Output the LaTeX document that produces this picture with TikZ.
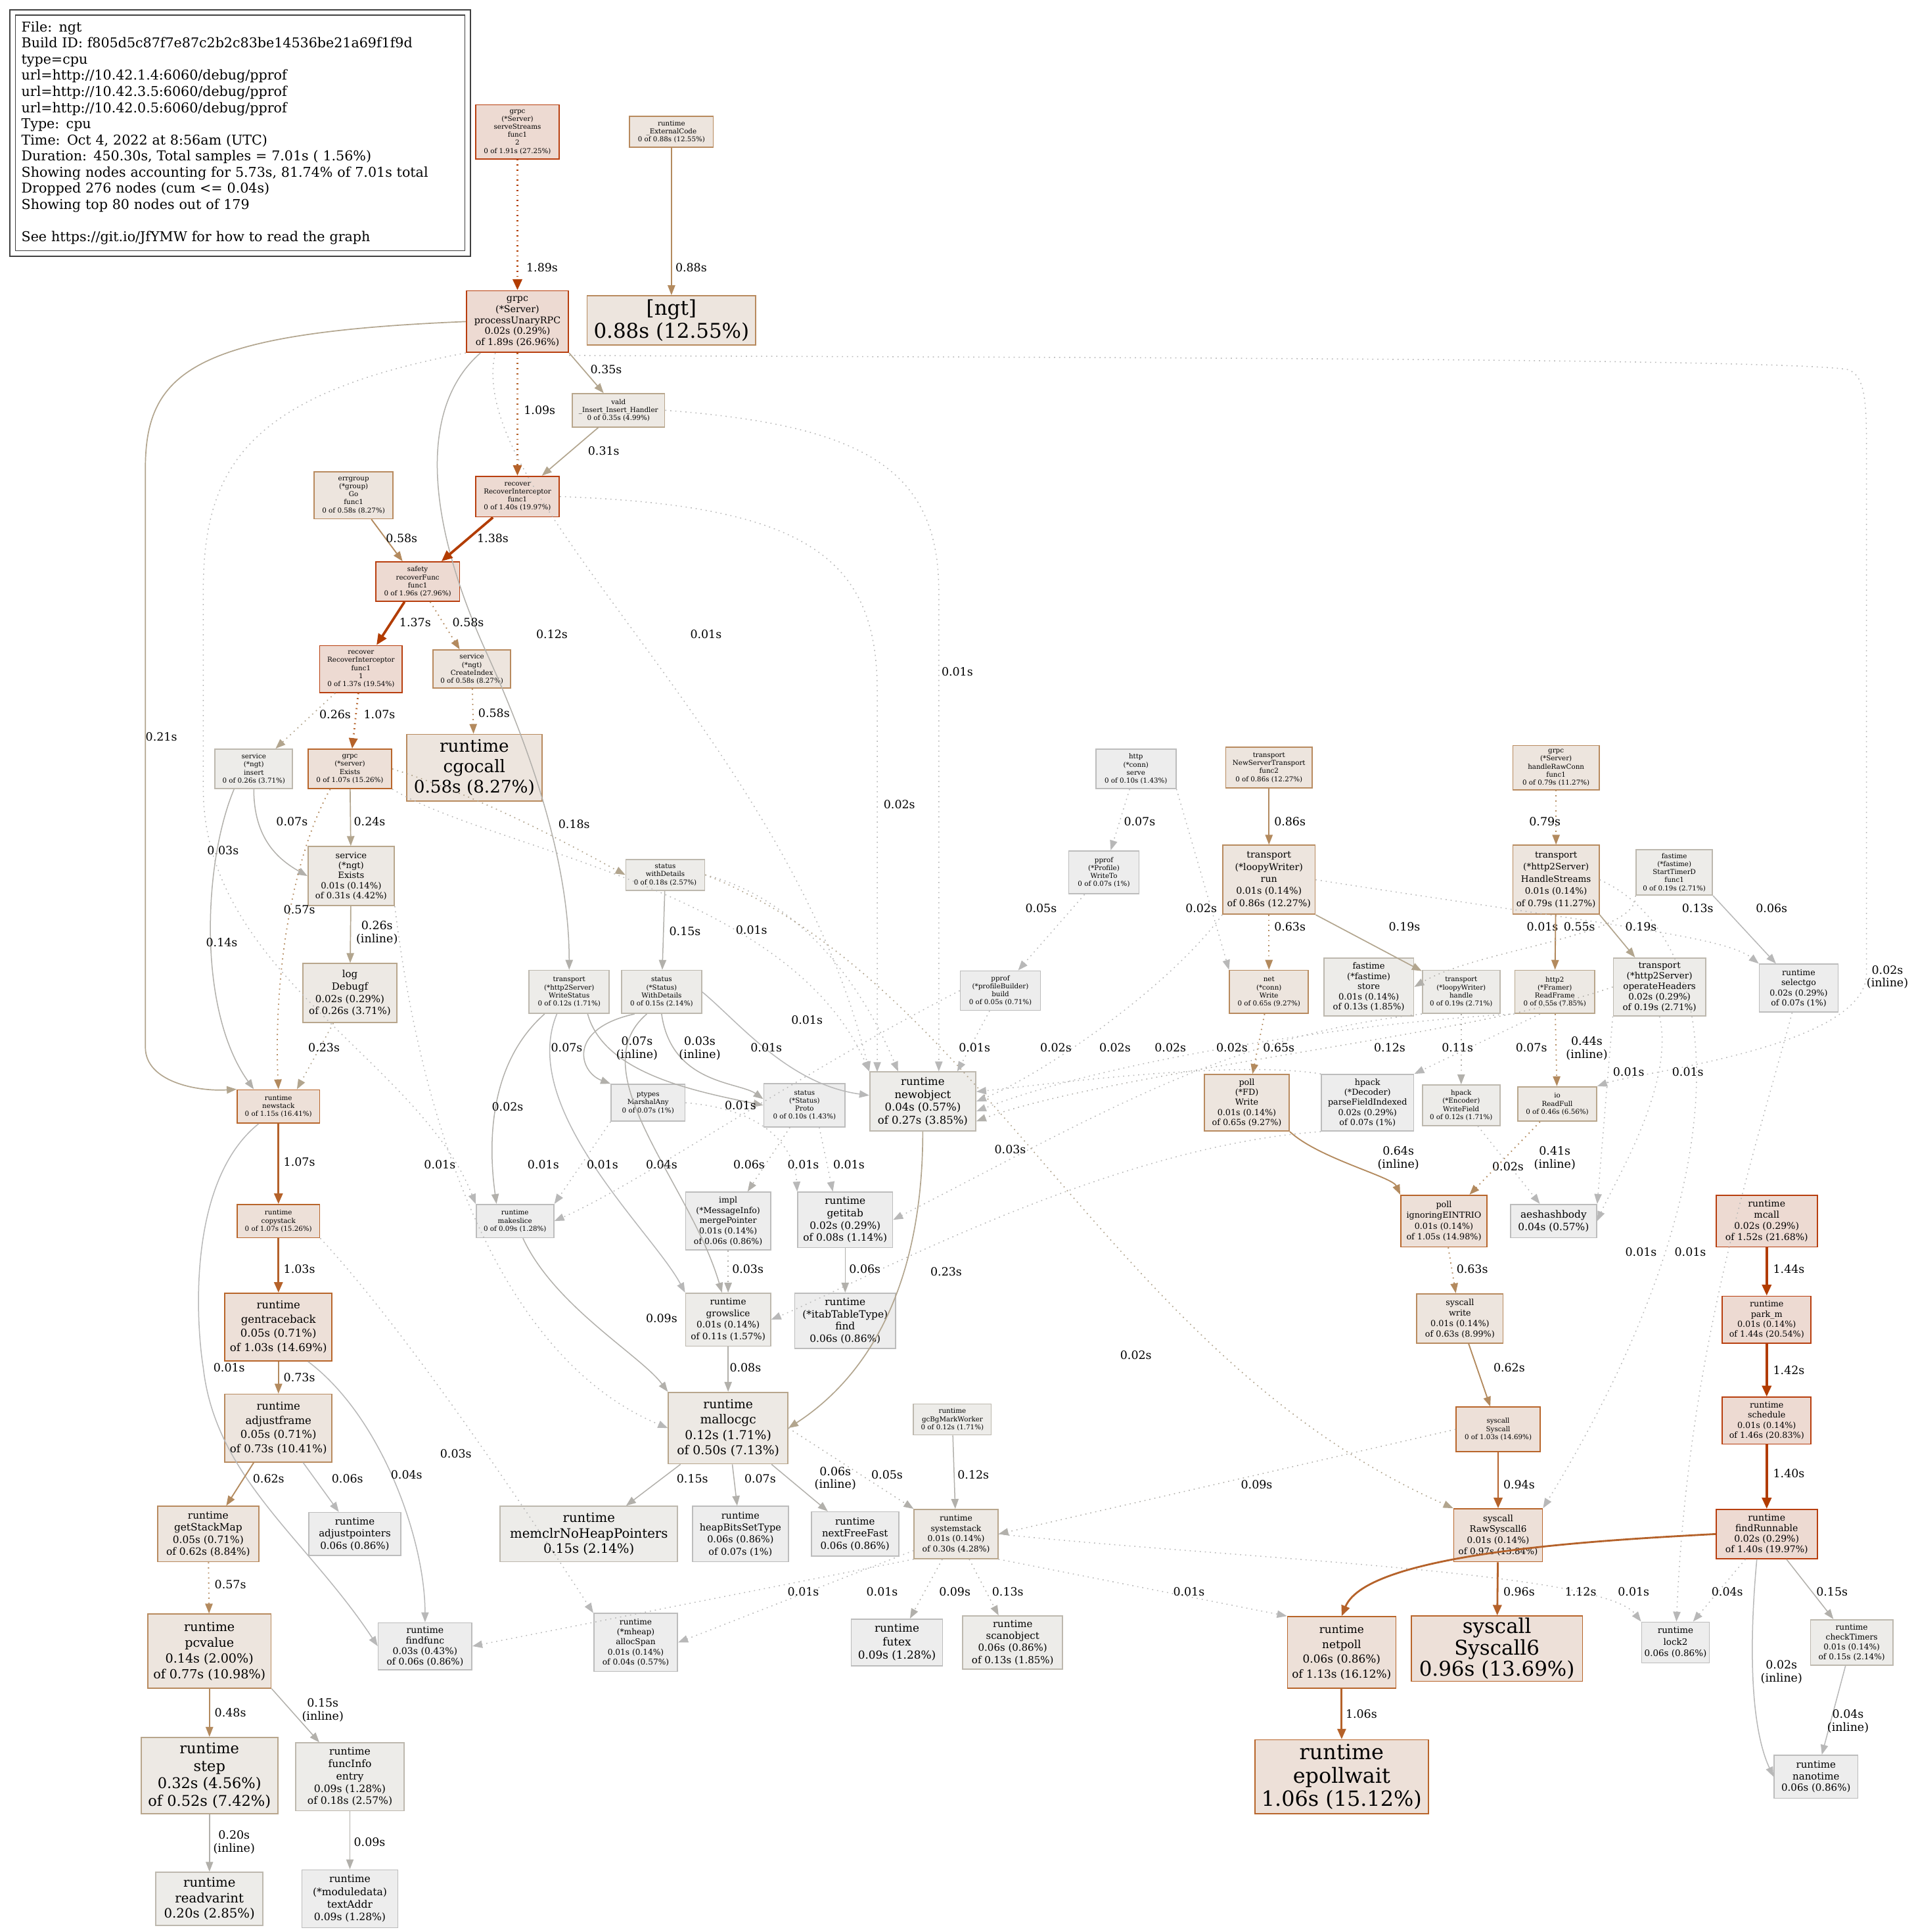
\documentclass[tikz,border=0pt]{standalone}
\usepackage{fontspec}
\setmainfont{DejaVu Serif}
\usetikzlibrary{arrows.meta}

\definecolor{hotD}{HTML}{B83E0E}\definecolor{hotF}{HTML}{EDDAD2}
\definecolor{warmD}{HTML}{B8652A}\definecolor{warmF}{HTML}{EDE0D8}
\definecolor{tanD}{HTML}{B88A5E}\definecolor{tanF}{HTML}{EDE5DE}
\definecolor{khD}{HTML}{B8A68C}\definecolor{khF}{HTML}{EDE9E4}
\definecolor{grD}{HTML}{BDB8AE}\definecolor{grF}{HTML}{EDECE9}
\definecolor{paD}{HTML}{BCBCBC}\definecolor{paF}{HTML}{EDEDED}
\definecolor{hotL}{HTML}{B23C00}
\definecolor{warmL}{HTML}{B5622A}
\definecolor{tanL}{HTML}{B38A5E}
\definecolor{khL}{HTML}{B2A58E}
\definecolor{grL}{HTML}{B2B0AB}
\definecolor{paL}{HTML}{B8B8B8}

\tikzset{
  fn/.style={draw, rectangle, inner sep=1pt, align=center, line width=0.9pt},
  sz/.style 2 args={minimum width=#1pt, minimum height=#2pt},
  fs/.style 2 args={font=\fontsize{#1}{#2}\selectfont},
  tinyfn/.style={fs={5.5}{6.5}},
  hot/.style={draw=hotD, fill=hotF},
  warm/.style={draw=warmD, fill=warmF},
  tan/.style={draw=tanD, fill=tanF},
  kh/.style={draw=khD, fill=khF},
  gr/.style={draw=grD, fill=grF},
  pa/.style={draw=paD, fill=paF},
  lab/.style={font=\fontsize{9.3}{10.5}\selectfont, align=center, inner sep=0pt},
  dotline/.style={dash pattern=on 0.9pt off 3.2pt},
  hotE/.style={draw=hotL, line width=2pt, -{Triangle[length=9pt,width=7.5pt]}},
  warmE/.style={draw=warmL, line width=1.5pt, -{Triangle[length=8.5pt,width=7pt]}},
  tanE/.style={draw=tanL, line width=1pt, -{Triangle[length=8pt,width=6pt]}},
  khE/.style={draw=khL, line width=0.9pt, -{Triangle[length=8pt,width=6pt]}},
  grE/.style={draw=grL, line width=0.8pt, -{Triangle[length=8pt,width=6pt]}},
  paE/.style={draw=paL, line width=0.8pt, -{Triangle[length=8pt,width=6pt]}},
}

\begin{document}
\begin{tikzpicture}[x=1pt,y=-1pt]
  \fill[white] (0,0) rectangle (1555,1568);
  \useasboundingbox (0,0) rectangle (1555,1568);

  % legend
  \node[draw=black!75, line width=0.8pt, align=left, anchor=north west, inner sep=5pt,
        text width=355pt, minimum height=191pt, fs={11}{13.1}] (legend) at (12,12)
    {File: ngt\\
     Build ID: f805d5c87f7e87c2b2c83be14536be21a69f1f9d\\
     type=cpu\\
     url=http://10.42.1.4:6060/debug/pprof\\
     url=http://10.42.3.5:6060/debug/pprof\\
     url=http://10.42.0.5:6060/debug/pprof\\
     Type: cpu\\
     Time: Oct 4, 2022 at 8:56am (UTC)\\
     Duration: 450.30s, Total samples = 7.01s ( 1.56\%)\\
     Showing nodes accounting for 5.73s, 81.74\% of 7.01s total\\
     Dropped 276 nodes (cum <= 0.04s)\\
     Showing top 80 nodes out of 179\\[13.1pt]
     See https://git.io/JfYMW for how to read the graph};
  \draw[black!75, line width=0.8pt] ([shift={(-4pt,4pt)}]legend.north west) rectangle ([shift={(4pt,-4pt)}]legend.south east);

  % grpc / service side
  \node[fn,hot,tinyfn,sz={68}{44}] (serveStreams) at (420,107) {grpc\\(*Server)\\serveStreams\\func1\\2\\0 of 1.91s (27.25\%)};
  \node[fn,tan,tinyfn,sz={68}{25}] (ExternalCode) at (545,107) {runtime\\\_ExternalCode\\0 of 0.88s (12.55\%)};
  \node[fn,tan,fs={16.5}{18.5},sz={137}{40}] (ngt) at (545,260) {[ngt]\\0.88s (12.55\%)};
  \node[fn,hot,fs={7.6}{9},sz={83}{50}] (processUnaryRPC) at (420,261) {grpc\\(*Server)\\processUnaryRPC\\0.02s (0.29\%)\\of 1.89s (26.96\%)};
  \node[fn,kh,tinyfn,sz={75}{27}] (vald) at (502,333) {vald\\\_Insert\_Insert\_Handler\\0 of 0.35s (4.99\%)};
  \node[fn,tan,tinyfn,sz={64}{38}] (errgroup) at (287,402) {errgroup\\(*group)\\Go\\func1\\0 of 0.58s (8.27\%)};
  \node[fn,hot,tinyfn,sz={68}{33}] (recoverA) at (420,403) {recover\\RecoverInterceptor\\func1\\0 of 1.40s (19.97\%)};
  \node[fn,hot,tinyfn,sz={68}{32}] (safety) at (339,472) {safety\\recoverFunc\\func1\\0 of 1.96s (27.96\%)};
  \node[fn,hot,tinyfn,sz={67}{38}] (recoverB) at (293,543) {recover\\RecoverInterceptor\\func1\\1\\0 of 1.37s (19.54\%)};
  \node[fn,tan,tinyfn,sz={63}{31}] (CreateIndex) at (383,543) {service\\(*ngt)\\CreateIndex\\0 of 0.58s (8.27\%)};
  \node[fn,tan,fs={14}{16.5},sz={110}{54}] (cgocall) at (385,623) {runtime\\cgocall\\0.58s (8.27\%)};
  \node[fn,gr,tinyfn,sz={63}{32}] (insert) at (206,624) {service\\(*ngt)\\insert\\0 of 0.26s (3.71\%)};
  \node[fn,warm,tinyfn,sz={68}{32}] (grpcExists) at (284,624) {grpc\\(*server)\\Exists\\0 of 1.07s (15.26\%)};
  \node[fn,kh,fs={7}{8.2},sz={70}{48}] (svcExists) at (285,711) {service\\(*ngt)\\Exists\\0.01s (0.14\%)\\of 0.31s (4.42\%)};
  \node[fn,kh,fs={8}{10},sz={76}{48}] (logDebugf) at (284,806) {log\\Debugf\\0.02s (0.29\%)\\of 0.26s (3.71\%)};

  % stack growth
  \node[fn,warm,tinyfn,sz={67}{27}] (newstack) at (226,898) {runtime\\newstack\\0 of 1.15s (16.41\%)};
  \node[fn,warm,tinyfn,sz={67}{27}] (copystack) at (226,991) {runtime\\copystack\\0 of 1.07s (15.26\%)};
  \node[fn,warm,fs={8.8}{11.5},sz={87}{55}] (gentraceback) at (226,1077) {runtime\\gentraceback\\0.05s (0.71\%)\\of 1.03s (14.69\%)};
  \node[fn,tan,fs={8.8}{11.5},sz={87}{55}] (adjustframe) at (226,1159) {runtime\\adjustframe\\0.05s (0.71\%)\\of 0.73s (10.41\%)};
  \node[fn,tan,fs={8.2}{9.8},sz={82}{45}] (getStackMap) at (169,1245) {runtime\\getStackMap\\0.05s (0.71\%)\\of 0.62s (8.84\%)};
  \node[fn,pa,fs={8}{9.8},sz={75}{35}] (adjustpointers) at (288,1245) {runtime\\adjustpointers\\0.06s (0.86\%)};
  \node[fn,tan,fs={10.2}{12.8},sz={100}{60}] (pcvalue) at (170,1340) {runtime\\pcvalue\\0.14s (2.00\%)\\of 0.77s (10.98\%)};
  \node[fn,pa,fs={7.5}{8.5},sz={76}{38}] (findfunc) at (345,1336) {runtime\\findfunc\\0.03s (0.43\%)\\of 0.06s (0.86\%)};
  \node[fn,pa,fs={6.5}{8.2},sz={68}{47}] (allocSpan) at (516,1333) {runtime\\(*mheap)\\allocSpan\\0.01s (0.14\%)\\of 0.04s (0.57\%)};
  \node[fn,kh,fs={12}{14.3},sz={111}{62}] (step) at (170,1441) {runtime\\step\\0.32s (4.56\%)\\of 0.52s (7.42\%)};
  \node[fn,gr,fs={8.3}{10},sz={88}{55}] (funcInfo) at (284,1442) {runtime\\funcInfo\\entry\\0.09s (1.28\%)\\of 0.18s (2.57\%)};
  \node[fn,gr,fs={10.5}{12.5},sz={87}{43}] (readvarint) at (170,1541) {runtime\\readvarint\\0.20s (2.85\%)};
  \node[fn,pa,fs={8.3}{10.3},sz={78}{47}] (textAddr) at (284,1541) {runtime\\(*moduledata)\\textAddr\\0.09s (1.28\%)};

  % status / alloc
  \node[fn,gr,tinyfn,sz={64}{25}] (withDetailsLow) at (540,710) {status\\withDetails\\0 of 0.18s (2.57\%)};
  \node[fn,gr,tinyfn,sz={65}{35}] (WriteStatus) at (462,805) {transport\\(*http2Server)\\WriteStatus\\0 of 0.12s (1.71\%)};
  \node[fn,gr,tinyfn,sz={65}{35}] (WithDetails) at (537,805) {status\\(*Status)\\WithDetails\\0 of 0.15s (2.14\%)};
  \node[fn,pa,tinyfn,sz={60}{30}] (MarshalAny) at (526,895) {ptypes\\MarshalAny\\0 of 0.07s (1\%)};
  \node[fn,pa,tinyfn,sz={66}{35}] (Proto) at (653,897) {status\\(*Status)\\Proto\\0 of 0.10s (1.43\%)};
  \node[fn,gr,fs={8.8}{10.5},sz={86}{48}] (newobject) at (749,894) {runtime\\newobject\\0.04s (0.57\%)\\of 0.27s (3.85\%)};
  \node[fn,pa,tinyfn,sz={63}{27}] (makeslice) at (418,991) {runtime\\makeslice\\0 of 0.09s (1.28\%)};
  \node[fn,pa,fs={6.7}{8.3},sz={69}{47}] (mergePointer) at (591,991) {impl\\(*MessageInfo)\\mergePointer\\0.01s (0.14\%)\\of 0.06s (0.86\%)};
  \node[fn,pa,fs={8.2}{10},sz={77}{45}] (getitab) at (686,990) {runtime\\getitab\\0.02s (0.29\%)\\of 0.08s (1.14\%)};
  \node[fn,gr,fs={7.3}{9.3},sz={69}{43}] (growslice) at (591,1071) {runtime\\growslice\\0.01s (0.14\%)\\of 0.11s (1.57\%)};
  \node[fn,pa,fs={8.2}{10},sz={82}{45}] (itabfind) at (686,1072) {runtime\\(*itabTableType)\\find\\0.06s (0.86\%)};
  \node[fn,kh,fs={10}{12.5},sz={97}{58}] (mallocgc) at (591,1159) {runtime\\mallocgc\\0.12s (1.71\%)\\of 0.50s (7.13\%)};
  \node[fn,gr,tinyfn,sz={63}{25}] (gcBgMarkWorker) at (773,1152) {runtime\\gcBgMarkWorker\\0 of 0.12s (1.71\%)};
  \node[fn,gr,fs={10.5}{12.5},sz={144}{45}] (memclr) at (478,1245) {runtime\\memclrNoHeapPointers\\0.15s (2.14\%)};
  \node[fn,pa,fs={7.7}{9.8},sz={78}{45}] (heapBits) at (601,1245) {runtime\\heapBitsSetType\\0.06s (0.86\%)\\of 0.07s (1\%)};
  \node[fn,pa,fs={8}{10},sz={71}{36}] (nextFreeFast) at (694,1245) {runtime\\nextFreeFast\\0.06s (0.86\%)};
  \node[fn,kh,fs={6.6}{8.4},sz={68}{40}] (systemstack) at (776,1245) {runtime\\systemstack\\0.01s (0.14\%)\\of 0.30s (4.28\%)};
  \node[fn,pa,fs={9}{11},sz={74}{38}] (futex) at (728,1333) {runtime\\futex\\0.09s (1.28\%)};
  \node[fn,gr,fs={8}{9.8},sz={81}{43}] (scanobject) at (822,1333) {runtime\\scanobject\\0.06s (0.86\%)\\of 0.13s (1.85\%)};

  % pprof / transport
  \node[fn,pa,tinyfn,sz={65}{32}] (profBuild) at (812,804) {pprof\\(*profileBuilder)\\build\\0 of 0.05s (0.71\%)};
  \node[fn,pa,tinyfn,sz={65}{32}] (httpServe) at (922,624) {http\\(*conn)\\serve\\0 of 0.10s (1.43\%)};
  \node[fn,pa,tinyfn,sz={57}{35}] (WriteTo) at (896,708) {pprof\\(*Profile)\\WriteTo\\0 of 0.07s (1\%)};
  \node[fn,tan,tinyfn,sz={70}{33}] (NewServerTransport) at (1030,623) {transport\\NewServerTransport\\func2\\0 of 0.86s (12.27\%)};
  \node[fn,tan,fs={7.6}{9.8},sz={75}{56}] (loopyRun) at (1030,714) {transport\\(*loopyWriter)\\run\\0.01s (0.14\%)\\of 0.86s (12.27\%)};
  \node[fn,tan,tinyfn,sz={64}{35}] (netWrite) at (1030,805) {net\\(*conn)\\Write\\0 of 0.65s (9.27\%)};
  \node[fn,tan,fs={6.8}{8.2},sz={69}{46}] (fdWrite) at (1012,895) {poll\\(*FD)\\Write\\0.01s (0.14\%)\\of 0.65s (9.27\%)};
  \node[fn,gr,fs={7}{8.3},sz={73}{47}] (fastimeStore) at (1111,801) {fastime\\(*fastime)\\store\\0.01s (0.14\%)\\of 0.13s (1.85\%)};
  \node[fn,gr,tinyfn,sz={63}{35}] (loopyHandle) at (1186,805) {transport\\(*loopyWriter)\\handle\\0 of 0.19s (2.71\%)};
  \node[fn,kh,tinyfn,sz={65}{35}] (ReadFrame) at (1262,805) {http2\\(*Framer)\\ReadFrame\\0 of 0.55s (7.85\%)};
  \node[fn,pa,fs={6.8}{8.2},sz={75}{46}] (parseFieldIndexed) at (1110,895) {hpack\\(*Decoder)\\parseFieldIndexed\\0.02s (0.29\%)\\of 0.07s (1\%)};
  \node[fn,gr,tinyfn,sz={63}{33}] (WriteField) at (1186,897) {hpack\\(*Encoder)\\WriteField\\0 of 0.12s (1.71\%)};
  \node[fn,kh,tinyfn,sz={64}{28}] (ReadFull) at (1264,896) {io\\ReadFull\\0 of 0.46s (6.56\%)};
  \node[fn,warm,fs={6.8}{8.6},sz={70}{42}] (ignoringEINTRIO) at (1172,991) {poll\\ignoringEINTRIO\\0.01s (0.14\%)\\of 1.05s (14.98\%)};
  \node[fn,pa,fs={8.2}{10},sz={70}{27}] (aeshashbody) at (1261,991) {aeshashbody\\0.04s (0.57\%)};
  \node[fn,tan,fs={6.8}{8.5},sz={70}{40}] (syscallWrite) at (1185,1070) {syscall\\write\\0.01s (0.14\%)\\of 0.63s (8.99\%)};
  \node[fn,warm,tinyfn,sz={68}{36}] (Syscall) at (1216,1160) {syscall\\Syscall\\0 of 1.03s (14.69\%)};
  \node[fn,warm,fs={7.2}{9},sz={72}{43}] (RawSyscall6) at (1216,1246) {syscall\\RawSyscall6\\0.01s (0.14\%)\\of 0.97s (13.84\%)};
  \node[fn,warm,fs={16.5}{17.5},sz={139}{53}] (Syscall6) at (1215,1338) {syscall\\Syscall6\\0.96s (13.69\%)};
  \node[fn,warm,fs={9}{12},sz={88}{58}] (netpoll) at (1089,1341) {runtime\\netpoll\\0.06s (0.86\%)\\of 1.13s (16.12\%)};
  \node[fn,warm,fs={17}{19},sz={141}{60}] (epollwait) at (1089,1442) {runtime\\epollwait\\1.06s (15.12\%)};
  \node[fn,tan,tinyfn,sz={70}{36}] (handleRawConn) at (1263,623) {grpc\\(*Server)\\handleRawConn\\func1\\0 of 0.79s (11.27\%)};
  \node[fn,tan,fs={7.2}{9.8},sz={70}{56}] (HandleStreams) at (1263,714) {transport\\(*http2Server)\\HandleStreams\\0.01s (0.14\%)\\of 0.79s (11.27\%)};
  \node[fn,gr,tinyfn,sz={62}{37}] (StartTimerD) at (1359,708) {fastime\\(*fastime)\\StartTimerD\\func1\\0 of 0.19s (2.71\%)};
  \node[fn,gr,fs={7.2}{8.6},sz={75}{47}] (operateHeaders) at (1347,801) {transport\\(*http2Server)\\operateHeaders\\0.02s (0.29\%)\\of 0.19s (2.71\%)};
  \node[fn,pa,fs={6.7}{8.3},sz={64}{39}] (selectgo) at (1460,802) {runtime\\selectgo\\0.02s (0.29\%)\\of 0.07s (1\%)};

  % scheduler
  \node[fn,hot,fs={7.5}{9},sz={82}{42}] (mcall) at (1434,991) {runtime\\mcall\\0.02s (0.29\%)\\of 1.52s (21.68\%)};
  \node[fn,hot,fs={6.8}{8.2},sz={72}{38}] (parkm) at (1434,1071) {runtime\\park\_m\\0.01s (0.14\%)\\of 1.44s (20.54\%)};
  \node[fn,hot,fs={6.8}{8.2},sz={72}{38}] (schedule) at (1434,1153) {runtime\\schedule\\0.01s (0.14\%)\\of 1.46s (20.83\%)};
  \node[fn,hot,fs={7.5}{8.7},sz={82}{40}] (findRunnable) at (1434,1245) {runtime\\findRunnable\\0.02s (0.29\%)\\of 1.40s (19.97\%)};
  \node[fn,pa,fs={7.2}{9.3},sz={55}{33}] (lock2) at (1360,1333) {runtime\\lock2\\0.06s (0.86\%)};
  \node[fn,gr,fs={6.5}{8},sz={67}{37}] (checkTimers) at (1503,1333) {runtime\\checkTimers\\0.01s (0.14\%)\\of 0.15s (2.14\%)};
  \node[fn,pa,fs={8}{9.5},sz={68}{35}] (nanotime) at (1474,1442) {runtime\\nanotime\\0.06s (0.86\%)};

  % edges: top part
  \draw[hotE,dotline] (serveStreams) -- (processUnaryRPC) node[lab] at (440,217) {1.89s};
  \draw[tanE] (ExternalCode) -- (ngt) node[lab] at (561,217) {0.88s};
  \draw[khE] (processUnaryRPC.south east) -- (vald) node[lab] at (492,300) {0.35s};
  \draw[warmE,dotline] (processUnaryRPC) -- (recoverA) node[lab] at (438,333) {1.09s};
  \draw[khE] (vald) -- (recoverA) node[lab] at (490,366) {0.31s};
  \draw[khE] (processUnaryRPC.west) .. controls (160,270) and (118,300) .. (118,380) -- (118,850) .. controls (118,878) and (160,886) .. (newstack.north west) node[lab] at (131,598) {0.21s};
  \draw[paE,dotline] (processUnaryRPC.south west) .. controls (200,320) and (165,380) .. (165,480) -- (165,640) .. controls (165,790) and (340,860) .. (makeslice.north west) node[lab] at (181,690) {0.03s};
  \draw[grE] ([xshift=-30pt]processUnaryRPC.south) .. controls (340,330) and (345,420) .. (395,530) .. controls (445,640) and (462,720) .. (WriteStatus) node[lab] at (448,515) {0.12s};
  \draw[paE,dotline] ([xshift=-18pt]processUnaryRPC.south) .. controls (375,400) and (640,600) .. (newobject.north west) node[lab] at (573,515) {0.01s};
  \draw[paE,dotline] ([yshift=-2pt]processUnaryRPC.south east) .. controls (700,290) and (1450,290) .. (1500,300) .. controls (1515,305) and (1515,330) .. (1515,370) -- (1515,790) .. controls (1515,850) and (1330,870) .. (ReadFull.north east) node[lab] at (1532,793) {0.02s\\(inline)};
  \draw[hotE] (recoverA) -- (safety) node[lab] at (400,437) {1.38s};
  \draw[paE,dotline] (recoverA.east) .. controls (650,410) and (712,450) .. (712,560) -- (712,870) node[lab] at (730,653) {0.02s};
  \draw[paE,dotline] (vald.east) .. controls (700,345) and (762,380) .. (762,480) -- (newobject.north -| 762,0) node[lab] at (777,545) {0.01s};
  \draw[tanE] (errgroup) -- (safety) node[lab] at (326,437) {0.58s};
  \draw[hotE] (safety) -- (recoverB) node[lab] at (337,505) {1.37s};
  \draw[tanE,dotline] (safety) -- (CreateIndex) node[lab] at (380,505) {0.58s};
  \draw[tanE,dotline] (CreateIndex) -- (cgocall) node[lab] at (401,579) {0.58s};
  \draw[khE,dotline] (recoverB) -- (insert) node[lab] at (272,580) {0.26s};
  \draw[warmE,dotline] (recoverB) -- (grpcExists) node[lab] at (308,580) {1.07s};

  % edges: service part
  \draw[grE] (insert.south) .. controls (206,680) and (225,697) .. (svcExists.west) node[lab] at (237,667) {0.07s};
  \draw[grE] ([xshift=-16pt]insert.south) .. controls (165,700) and (160,820) .. ([xshift=-20pt]newstack.north) node[lab] at (180,765) {0.14s};
  \draw[paE,dotline] (grpcExists.south east) .. controls (400,690) and (640,720) .. (newobject.north west) node[lab] at (610,755) {0.01s};
  \draw[khE] (grpcExists) -- (svcExists) node[lab] at (300,667) {0.24s};
  \draw[khE,dotline] (grpcExists.east) .. controls (400,650) and (470,690) .. (withDetailsLow.west) node[lab] at (466,669) {0.18s};
  \draw[tanE,dotline] ([xshift=-16pt]grpcExists.south) .. controls (235,700) and (222,800) .. (newstack.north) node[lab] at (243,738) {0.57s};
  \draw[khE] (svcExists) -- (logDebugf) node[lab] at (306,757) {0.26s\\(inline)};
  \draw[paE,dotline] (svcExists.south east) .. controls (340,900) and (400,1100) .. (mallocgc.west) node[lab] at (357,945) {0.01s};
  \draw[khE,dotline] (logDebugf) -- ([xshift=15pt]newstack.north) node[lab] at (263,850) {0.23s};

  % edges: stack growth
  \draw[warmE] (newstack) -- (copystack) node[lab] at (243,943) {1.07s};
  \draw[paE] ([xshift=-16pt]newstack.south) .. controls (150,960) and (160,1080) .. (165,1110) .. controls (175,1200) and (250,1250) .. (findfunc.west) node[lab] at (186,1110) {0.01s};
  \draw[warmE] (copystack) -- (gentraceback) node[lab] at (243,1030) {1.03s};
  \draw[paE,dotline] (copystack.south east) .. controls (330,1080) and (430,1230) .. (allocSpan.north west) node[lab] at (370,1180) {0.03s};
  \draw[tanE] (gentraceback) -- (adjustframe) node[lab] at (243,1118) {0.73s};
  \draw[paE] ([xshift=-20pt]gentraceback.south east) .. controls (310,1150) and (345,1250) .. (findfunc.north) node[lab] at (330,1197) {0.04s};
  \draw[tanE] ([xshift=-20pt]adjustframe.south) -- (getStackMap) node[lab] at (218,1200) {0.62s};
  \draw[paE] ([xshift=20pt]adjustframe.south) -- (adjustpointers) node[lab] at (282,1200) {0.06s};
  \draw[tanE,dotline] (getStackMap) -- (pcvalue) node[lab] at (187,1286) {0.57s};
  \draw[tanE] (pcvalue) -- (step) node[lab] at (187,1390) {0.48s};
  \draw[grE] (pcvalue.south east) -- (funcInfo) node[lab] at (262,1388) {0.15s\\(inline)};
  \draw[grE] (step) -- (readvarint) node[lab] at (190,1495) {0.20s\\(inline)};
  \draw[grE] (funcInfo) -- (textAddr) node[lab] at (300,1495) {0.09s};

  % edges: status / alloc
  \draw[grE] (withDetailsLow) -- (WithDetails) node[lab] at (556,756) {0.15s};
  \draw[paE,dotline] (withDetailsLow.east) .. controls (650,730) and (700,800) .. ([xshift=-20pt]newobject.north) node[lab] at (655,828) {0.01s};
  \draw[khE,dotline] (withDetailsLow.east) .. controls (800,800) and (900,1100) .. (RawSyscall6.north west) node[lab] at (922,1100) {0.02s};
  \draw[grE] ([xshift=-20pt]WriteStatus.south) .. controls (400,860) and (395,920) .. ([xshift=-15pt]makeslice.north) node[lab] at (412,898) {0.02s};
  \draw[paE] ([xshift=-10pt]WriteStatus.south) .. controls (420,900) and (530,1000) .. (growslice.north west) node[lab] at (489,945) {0.01s};
  \draw[grE] ([xshift=15pt]WriteStatus.south) .. controls (490,870) and (560,885) .. (Proto.west) node[lab] at (517,851) {0.07s\\(inline)};
  \draw[grE] ([xshift=-22pt]WithDetails.south) .. controls (460,835) and (470,870) .. (MarshalAny.north west) node[lab] at (460,850) {0.07s};
  \draw[grE] ([xshift=-12pt]WithDetails.south) .. controls (470,870) and (560,960) .. ([xshift=-5pt]growslice.north) node[lab] at (537,945) {0.04s};
  \draw[grE] (WithDetails.south) .. controls (545,880) and (600,878) .. ([yshift=5pt]Proto.west) node[lab] at (568,851) {0.03s\\(inline)};
  \draw[paE] (WithDetails.east) .. controls (600,830) and (640,880) .. ([yshift=5pt]newobject.west) node[lab] at (622,850) {0.01s};
  \draw[paE,dotline] (MarshalAny.east) .. controls (620,900) and (645,930) .. (getitab.north west) node[lab] at (652,945) {0.01s};
  \draw[paE,dotline] (MarshalAny.south west) -- (makeslice.north east) node[lab] at (441,945) {0.01s};
  \draw[grE,dotline] (Proto) -- (mergePointer) node[lab] at (608,945) {0.06s};
  \draw[paE,dotline] ([xshift=12pt]Proto.south) -- ([xshift=-10pt]getitab.north) node[lab] at (689,945) {0.01s};
  \draw[paE,dotline] (profBuild.west) .. controls (650,870) and (520,960) .. (makeslice.east) node[lab] at (601,897) {0.01s};
  \draw[paE,dotline] (profBuild) -- ([xshift=28pt]newobject.north) node[lab] at (791,850) {0.01s};
  \draw[grE] (makeslice) .. controls (450,1060) and (520,1100) .. (mallocgc.north west) node[lab] at (537,1070) {0.09s};
  \draw[grE,dotline] (mergePointer) -- (growslice) node[lab] at (607,1030) {0.03s};
  \draw[grE] (getitab) -- (itabfind) node[lab] at (702,1030) {0.06s};
  \draw[grE] (growslice) -- (mallocgc) node[lab] at (605,1110) {0.08s};
  \draw[khE] (newobject) .. controls (749,1050) and (700,1120) .. (mallocgc.east) node[lab] at (768,1032) {0.23s};
  \draw[grE] (mallocgc) -- (memclr) node[lab] at (562,1200) {0.15s};
  \draw[grE] (mallocgc) -- (heapBits) node[lab] at (617,1200) {0.07s};
  \draw[grE] (mallocgc) -- (nextFreeFast) node[lab] at (678,1200) {0.06s\\(inline)};
  \draw[grE,dotline] (mallocgc.east) -- (systemstack.north west) node[lab] at (720,1197) {0.05s};
  \draw[grE] (gcBgMarkWorker) -- (systemstack) node[lab] at (790,1197) {0.12s};
  \draw[grE,dotline] (Syscall.west) -- (systemstack.east) node[lab] at (1020,1205) {0.09s};
  \draw[paE,dotline] (systemstack.south west) -- (findfunc.east) node[lab] at (652,1292) {0.01s};
  \draw[paE,dotline] (systemstack) -- (allocSpan.east) node[lab] at (716,1292) {0.01s};
  \draw[grE,dotline] (systemstack) -- (futex) node[lab] at (775,1292) {0.09s};
  \draw[grE,dotline] (systemstack) -- (scanobject) node[lab] at (818,1292) {0.13s};
  \draw[paE,dotline] (systemstack.south east) -- (netpoll.north west) node[lab] at (965,1292) {0.01s};
  \draw[paE,dotline] (systemstack.east) .. controls (1000,1265) and (1300,1275) .. (lock2.north west) node[lab] at (1326,1292) {0.01s};

  % edges: transport
  \draw[paE,dotline] (httpServe) -- (WriteTo) node[lab] at (925,667) {0.07s};
  \draw[paE,dotline] (httpServe.south east) -- (netWrite.north west) node[lab] at (975,737) {0.02s};
  \draw[paE,dotline] (WriteTo) -- (profBuild) node[lab] at (845,737) {0.05s};
  \draw[tanE] (NewServerTransport) -- (loopyRun) node[lab] at (1047,667) {0.86s};
  \draw[tanE,dotline] (loopyRun) -- (netWrite) node[lab] at (1047,752) {0.63s};
  \draw[khE] (loopyRun.south east) -- (loopyHandle) node[lab] at (1140,752) {0.19s};
  \draw[paE,dotline] (loopyRun.south west) .. controls (950,800) and (850,870) .. (newobject.east) node[lab] at (905,850) {0.02s};
  \draw[paE,dotline] (loopyRun.east) .. controls (1300,750) and (1400,760) .. (selectgo.north west) node[lab] at (1252,752) {0.01s};
  \draw[tanE,dotline] (netWrite) -- (fdWrite) node[lab] at (1038,850) {0.65s};
  \draw[tanE] (fdWrite.south east) .. controls (1070,940) and (1130,955) .. (ignoringEINTRIO.north west) node[lab] at (1135,940) {0.64s\\(inline)};
  \draw[paE,dotline] (parseFieldIndexed.south west) .. controls (900,930) and (700,1040) .. (growslice.east) node[lab] at (820,933) {0.03s};
  \draw[paE,dotline] (parseFieldIndexed.north west) .. controls (1000,860) and (850,880) .. ([yshift=8pt]newobject.east) node[lab] at (950,850) {0.02s};
  \draw[grE,dotline] (loopyHandle) -- (WriteField) node[lab] at (1128,850) {0.12s};
  \draw[paE,dotline] (loopyHandle.south west) .. controls (1000,840) and (900,900) .. (getitab.east) node[lab] at (857,850) {0.02s};
  \draw[paE,dotline] (ReadFrame.south west) .. controls (1100,830) and (900,860) .. ([yshift=-8pt]newobject.east) node[lab] at (1000,850) {0.02s};
  \draw[tanE,dotline] (ReadFrame) -- (ReadFull) node[lab] at (1288,851) {0.44s\\(inline)};
  \draw[paE,dotline] ([xshift=-12pt]ReadFrame.south) -- (parseFieldIndexed.north east) node[lab] at (1243,850) {0.07s};
  \draw[paE,dotline] (WriteField) -- (aeshashbody) node[lab] at (1224,947) {0.02s};
  \draw[tanE,dotline] (ReadFull) -- (ignoringEINTRIO) node[lab] at (1262,940) {0.41s\\(inline)};
  \draw[tanE,dotline] (ignoringEINTRIO) -- (syscallWrite) node[lab] at (1195,1030) {0.63s};
  \draw[tanE] (syscallWrite) -- (Syscall) node[lab] at (1225,1110) {0.62s};
  \draw[warmE] (Syscall) -- (RawSyscall6) node[lab] at (1233,1205) {0.94s};
  \draw[warmE] (RawSyscall6) -- (Syscall6) node[lab] at (1233,1292) {0.96s};
  \draw[tanE,dotline] (handleRawConn) -- (HandleStreams) node[lab] at (1254,667) {0.79s};
  \draw[tanE] (HandleStreams) -- (ReadFrame) node[lab] at (1282,752) {0.55s};
  \draw[khE] (HandleStreams.south east) -- (operateHeaders) node[lab] at (1332,752) {0.19s};
  \draw[paE,dotline] (HandleStreams.east) .. controls (1400,760) and (1420,950) .. (RawSyscall6.north east) node[lab] at (1332,1016) {0.01s};
  \draw[grE,dotline] (StartTimerD.south west) .. controls (1330,760) and (1200,770) .. (fastimeStore.east) node[lab] at (1378,737) {0.13s};
  \draw[paE] (StartTimerD.south east) -- (selectgo) node[lab] at (1438,737) {0.06s};
  \draw[grE,dotline] (operateHeaders.west) .. controls (1200,840) and (900,870) .. ([yshift=-16pt]newobject.east) node[lab] at (1183,850) {0.11s};
  \draw[paE,dotline] (operateHeaders.south west) -- (aeshashbody.north east) node[lab] at (1322,870) {0.01s};
  \draw[paE,dotline] (operateHeaders.south) .. controls (1360,880) and (1310,960) .. (aeshashbody.east) node[lab] at (1370,870) {0.01s};
  \draw[paE,dotline] (selectgo) .. controls (1420,950) and (1370,1100) .. (lock2) node[lab] at (1372,1016) {0.01s};

  % edges: scheduler
  \draw[hotE] (mcall) -- (parkm) node[lab] at (1452,1030) {1.44s};
  \draw[hotE] (parkm) -- (schedule) node[lab] at (1452,1112) {1.42s};
  \draw[hotE] (schedule) -- (findRunnable) node[lab] at (1452,1196) {1.40s};
  \draw[warmE] (findRunnable.west) .. controls (1300,1250) and (1110,1260) .. (netpoll.north) node[lab] at (1283,1292) {1.12s};
  \draw[paE,dotline] (findRunnable) -- (lock2) node[lab] at (1402,1292) {0.04s};
  \draw[grE] (findRunnable) -- (checkTimers) node[lab] at (1487,1292) {0.15s};
  \draw[paE] ([xshift=-8pt]findRunnable.south) .. controls (1420,1330) and (1420,1400) .. (nanotime.west) node[lab] at (1446,1357) {0.02s\\(inline)};
  \draw[paE] (checkTimers) -- (nanotime) node[lab] at (1500,1397) {0.04s\\(inline)};
  \draw[warmE] (netpoll) -- (epollwait) node[lab] at (1105,1391) {1.06s};
\end{tikzpicture}
\end{document}
